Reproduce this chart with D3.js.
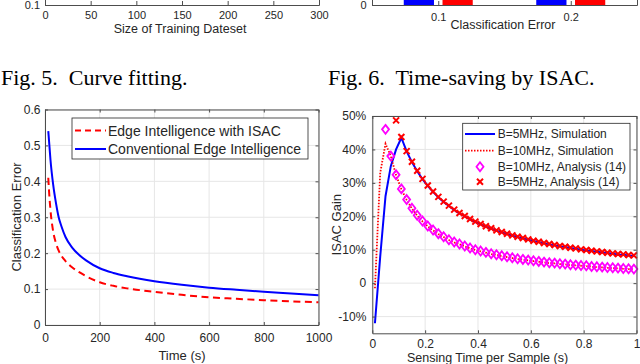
<!DOCTYPE html>
<html>
<head>
<meta charset="utf-8">
<script src="https://cdn.jsdelivr.net/npm/d3@7"></script>
<style>
  body { margin: 0; background: #fff; }
  svg { display: block; }
  text { font-family: "Liberation Sans", Arial, sans-serif; fill: #262626; }
  .cap { font-family: "Liberation Serif", "Times New Roman", serif; font-size: 22px; fill: #000; white-space: pre; }
</style>
</head>
<body>
<div id="wrapper"></div>
<script>
// top strip: bottoms of the two figures above (cropped by the page)
const sizeTicks = [0, 50, 100, 150, 200, 250, 300];
const fitTicks = [0.1];
const errBins = [0.1, 0.2];
const binBlue = [34, 27];   // these run off the top of the crop
const binRed = [30, 31];
const binTicks = [0];

// classification error vs time
const timeSec = [12, 15, 20, 30, 40, 50, 60, 75, 100, 125, 150, 200, 250, 300, 400, 500, 600, 700, 800, 900, 1000];
const errIsac = [0.41, 0.37, 0.32, 0.26, 0.228, 0.207, 0.193, 0.178, 0.16, 0.147, 0.136, 0.119, 0.109, 0.102, 0.0925, 0.084, 0.077, 0.073, 0.069, 0.066, 0.063];
const errConv = [0.54, 0.51, 0.46, 0.39, 0.34, 0.30, 0.275, 0.245, 0.215, 0.195, 0.18, 0.158, 0.145, 0.136, 0.122, 0.112, 0.104, 0.098, 0.0925, 0.088, 0.083];
const timeTicks = [0, 200, 400, 600, 800, 1000];
const errTicks = [0, 0.1, 0.2, 0.3, 0.4, 0.5, 0.6];

// ISAC gain (%) vs sensing time per sample
const senseT = [0.01, 0.03, 0.05, 0.07, 0.09, 0.11, 0.13, 0.15, 0.17, 0.19,
  0.21, 0.23, 0.25, 0.27, 0.29, 0.31, 0.33, 0.35, 0.37, 0.39,
  0.41, 0.43, 0.45, 0.47, 0.49, 0.51, 0.53, 0.55, 0.57, 0.59,
  0.61, 0.63, 0.65, 0.67, 0.69, 0.71, 0.73, 0.75, 0.77, 0.79,
  0.81, 0.83, 0.85, 0.87, 0.89, 0.91, 0.93, 0.95, 0.97, 0.99];
const gainSim5 = [-12, 8, 26, 35, 40, 43.5, 39.4, 36.2, 33.5, 31.1,
  29.1, 27.3, 25.7, 24.3, 23.1, 21.9, 20.9, 20.0, 19.1, 18.3,
  17.6, 16.9, 16.3, 15.7, 15.2, 14.7, 14.2, 13.8, 13.4, 13.0,
  12.6, 12.3, 11.9, 11.6, 11.3, 11.0, 10.8, 10.5, 10.3, 10.0,
  9.8, 9.6, 9.4, 9.2, 9.0, 8.8, 8.6, 8.5, 8.3, 8.2];
const gainSim10 = [-1.5, 33, 41.7, 38.0, 32.3, 28.1, 24.9, 22.3, 20.2, 18.5,
  17.0, 15.8, 14.7, 13.8, 12.9, 12.2, 11.6, 11.0, 10.4, 9.9,
  9.5, 9.1, 8.7, 8.4, 8.1, 7.8, 7.5, 7.2, 7.0, 6.8,
  6.6, 6.4, 6.2, 6.0, 5.9, 5.7, 5.6, 5.4, 5.3, 5.2,
  5.1, 4.9, 4.8, 4.7, 4.6, 4.5, 4.4, 4.3, 4.2, 4.1];
const gainAna10 = [null, null, 46.0, 38.0, 32.4, 28.2, 25.0, 22.4, 20.3, 18.6,
  17.1, 15.9, 14.8, 13.9, 13.0, 12.3, 11.7, 11.1, 10.5, 10.0,
  9.6, 9.2, 8.8, 8.5, 8.2, 7.9, 7.6, 7.3, 7.1, 6.9,
  6.7, 6.5, 6.3, 6.1, 6.0, 5.8, 5.7, 5.5, 5.4, 5.3,
  5.2, 5.0, 4.9, 4.8, 4.7, 4.6, 4.5, 4.4, 4.3, 4.2];
const gainAna5 = [null, null, null, null, 48.7, 43.7, 39.5, 36.3, 33.6, 31.2,
  29.2, 27.4, 25.8, 24.4, 23.2, 22.0, 21.0, 20.1, 19.2, 18.4,
  17.7, 17.0, 16.4, 15.8, 15.3, 14.8, 14.3, 13.9, 13.5, 13.1,
  12.7, 12.4, 12.0, 11.7, 11.4, 11.1, 10.9, 10.6, 10.4, 10.1,
  9.9, 9.7, 9.5, 9.3, 9.1, 8.9, 8.7, 8.6, 8.4, 8.3];
const senseTicks = [0, 0.2, 0.4, 0.6, 0.8, 1];
const gainTicks = [-10, 0, 10, 20, 30, 40, 50];

const axisCol = "#4d4d4d";
const gridCol = "#e6e6e6";

const svg = d3.select("#wrapper").append("svg").attr("width", 640).attr("height", 364);

function drawGrid(g, x, y, xt, yt) {
  const [x0, x1] = x.range(), [y0, y1] = y.range();
  g.append("g").selectAll("line").data(xt).join("line")
    .attr("x1", d => x(d)).attr("x2", d => x(d)).attr("y1", y0).attr("y2", y1)
    .attr("stroke", gridCol);
  g.append("g").selectAll("line").data(yt).join("line")
    .attr("x1", x0).attr("x2", x1).attr("y1", d => y(d)).attr("y2", d => y(d))
    .attr("stroke", gridCol);
}

function drawAxes(g, x, y, o) {
  const [x0, x1] = x.range(), [y0, y1] = y.range();
  const none = () => "";
  const parts = [
    g.append("g").attr("transform", `translate(0,${y0})`)
      .call(d3.axisBottom(x).tickValues(o.xt).tickFormat(o.fx).tickSizeInner(-o.tick).tickSizeOuter(0).tickPadding(o.padX)),
    g.append("g").attr("transform", `translate(${x0},0)`)
      .call(d3.axisLeft(y).tickValues(o.yt).tickFormat(o.fy).tickSizeInner(-o.tick).tickSizeOuter(0).tickPadding(o.padY)),
    g.append("g").attr("transform", `translate(0,${y1})`)
      .call(d3.axisTop(x).tickValues(o.xt).tickFormat(none).tickSizeInner(-o.tick).tickSizeOuter(0)),
    g.append("g").attr("transform", `translate(${x1},0)`)
      .call(d3.axisRight(y).tickValues(o.yt).tickFormat(none).tickSizeInner(-o.tick).tickSizeOuter(0))
  ];
  parts.forEach(p => p.attr("color", axisCol).attr("font-family", null).attr("font-size", o.fs));
}

// ---------- top-left remnant ----------
const xSize = d3.scaleLinear().domain([0, 300]).range([45, 319]);
const yFit = d3.scaleLinear().domain([0.1, 0.6]).range([5, -270]);
drawAxes(svg.append("g"), xSize, yFit, {xt: sizeTicks, yt: fitTicks, fx: d => d, fy: d => d, tick: 4, padX: 6.5, padY: 5, fs: 11});
svg.append("text").attr("x", 180).attr("y", 33).attr("text-anchor", "middle").attr("font-size", 12.5)
  .text("Size of Training Dateset");

// ---------- top-right remnant ----------
const xBin = d3.scaleLinear().domain([0.05, 0.25]).range([372, 637]);
const yBin = d3.scaleLinear().domain([0, 40]).range([5, -250]);
const inner = d3.scaleBand().domain(["blue", "red"]).range([-34.5, 34.5]).paddingInner(0.22);
const binRows = errBins.flatMap((b, i) => [
  {b, k: "blue", v: binBlue[i]},
  {b, k: "red", v: binRed[i]}
]);
svg.append("g").selectAll("rect").data(binRows).join("rect")
  .attr("x", d => xBin(d.b) + inner(d.k))
  .attr("width", inner.bandwidth())
  .attr("y", d => yBin(d.v))
  .attr("height", d => yBin(0) - yBin(d.v))
  .attr("fill", d => d.k === "blue" ? "#0000ff" : "#ff0000");
drawAxes(svg.append("g"), xBin, yBin, {xt: errBins, yt: binTicks, fx: d => d, fy: d => d, tick: 4, padX: 8, padY: 5.5, fs: 11});
svg.append("text").attr("x", 503).attr("y", 29).attr("text-anchor", "middle").attr("font-size", 12.5)
  .text("Classification Error");

// ---------- captions ----------
svg.append("text").attr("class", "cap").attr("x", 1).attr("y", 85).text("Fig. 5.  Curve fitting.");
svg.append("text").attr("class", "cap").attr("x", 328).attr("y", 85).text("Fig. 6.  Time-saving by ISAC.");

// ---------- left: classification error vs time ----------
const xT = d3.scaleLinear().domain([0, 1000]).range([45, 318.5]);
const yE = d3.scaleLinear().domain([0, 0.6]).range([325, 109.5]);
const gL = svg.append("g");
drawGrid(gL, xT, yE, timeTicks, errTicks);

const lineL = d3.line().x(d => xT(d.t)).y(d => yE(d.v)).curve(d3.curveMonotoneX);
gL.append("path").datum(timeSec.map((t, i) => ({t, v: errIsac[i]})))
  .attr("d", lineL).attr("fill", "none").attr("stroke", "#ff0000").attr("stroke-width", 2)
  .attr("stroke-dasharray", "7,4.5");
gL.append("path").datum(timeSec.map((t, i) => ({t, v: errConv[i]})))
  .attr("d", lineL).attr("fill", "none").attr("stroke", "#0000ff").attr("stroke-width", 2);

drawAxes(gL, xT, yE, {xt: timeTicks, yt: errTicks, fx: d => d, fy: d => d, tick: 3, padX: 8, padY: 4.5, fs: 12});
gL.append("text").attr("x", 182).attr("y", 360).attr("text-anchor", "middle").attr("font-size", 13).text("Time (s)");
gL.append("text").attr("transform", "translate(20.5,217) rotate(-90)").attr("text-anchor", "middle")
  .attr("font-size", 13).text("Classification Error");

const legL = gL.append("g");
legL.append("rect").attr("x", 72).attr("y", 118).attr("width", 236).attr("height", 41)
  .attr("fill", "#fff").attr("stroke", "#262626").attr("stroke-width", 0.8);
const legLItems = [
  {name: "Edge Intelligence with ISAC", col: "#ff0000", dash: "6,4", y: 130.5},
  {name: "Conventional Edge Intelligence", col: "#0000ff", dash: null, y: 149}
];
legLItems.forEach(it => {
  legL.append("line").attr("x1", 75).attr("x2", 106).attr("y1", it.y).attr("y2", it.y)
    .attr("stroke", it.col).attr("stroke-width", 2).attr("stroke-dasharray", it.dash);
  legL.append("text").attr("x", 108).attr("y", it.y).attr("dy", "0.36em").attr("font-size", 14).text(it.name);
});

// ---------- right: ISAC gain vs sensing time ----------
const xS = d3.scaleLinear().domain([0, 1]).range([372.3, 636.5]);
const yG = d3.scaleLinear().domain([-15, 50]).range([333.3, 116]);
const gR = svg.append("g");
drawGrid(gR, xS, yG, senseTicks, gainTicks);

const lineR = d3.line().defined(d => d.v != null).x(d => xS(d.t)).y(d => yG(d.v));
const rows = arr => senseT.map((t, i) => ({t, v: arr[i]}));

gR.append("path").datum(rows(gainSim5)).attr("d", lineR)
  .attr("fill", "none").attr("stroke", "#0000ff").attr("stroke-width", 2);
gR.append("path").datum(rows(gainSim10)).attr("d", lineR)
  .attr("fill", "none").attr("stroke", "#ff0000").attr("stroke-width", 1.8).attr("stroke-dasharray", "1.5,1.5");

const diamond = "M0,-4.5L3.5,0L0,4.5L-3.5,0Z";
const cross = "M-3,-3L3,3M-3,3L3,-3";
gR.append("g").selectAll("path").data(rows(gainAna10).filter(d => d.v != null)).join("path")
  .attr("transform", d => `translate(${xS(d.t)},${yG(d.v)})`)
  .attr("d", diamond).attr("fill", "none").attr("stroke", "#ff00ff").attr("stroke-width", 1.8);
gR.append("g").selectAll("path").data(rows(gainAna5).filter(d => d.v != null)).join("path")
  .attr("transform", d => `translate(${xS(d.t)},${yG(d.v)})`)
  .attr("d", cross).attr("fill", "none").attr("stroke", "#ff0000").attr("stroke-width", 2);

drawAxes(gR, xS, yG, {xt: senseTicks, yt: gainTicks, fx: d => d,
  fy: d => d === 0 ? "0" : d + "%", tick: 3, padX: 6.5, padY: 6, fs: 12});
gR.append("text").attr("x", 487.5).attr("y", 361.5).attr("text-anchor", "middle").attr("font-size", 12.5)
  .text("Sensing Time per Sample (s)");
gR.append("text").attr("transform", "translate(341,224.7) rotate(-90)").attr("text-anchor", "middle")
  .attr("font-size", 13).text("ISAC Gain");

const legR = gR.append("g");
legR.append("rect").attr("x", 462.7).attr("y", 123.3).attr("width", 167.3).attr("height", 66.7)
  .attr("fill", "#fff").attr("stroke", "#262626").attr("stroke-width", 0.8);
const legRItems = [
  {name: "B=5MHz, Simulation", kind: "solid", y: 134},
  {name: "B=10MHz, Simulation", kind: "dot", y: 150.7},
  {name: "B=10MHz, Analysis (14)", kind: "diamond", y: 166.7},
  {name: "B=5MHz, Analysis (14)", kind: "cross", y: 181.7}
];
legRItems.forEach(it => {
  if (it.kind === "solid") {
    legR.append("line").attr("x1", 465).attr("x2", 495).attr("y1", it.y).attr("y2", it.y)
      .attr("stroke", "#0000ff").attr("stroke-width", 2);
  } else if (it.kind === "dot") {
    legR.append("line").attr("x1", 465).attr("x2", 495).attr("y1", it.y).attr("y2", it.y)
      .attr("stroke", "#ff0000").attr("stroke-width", 1.8).attr("stroke-dasharray", "1.5,1.5");
  } else {
    legR.append("path").attr("transform", `translate(480,${it.y})`)
      .attr("d", it.kind === "diamond" ? diamond : cross).attr("fill", "none")
      .attr("stroke", it.kind === "diamond" ? "#ff00ff" : "#ff0000")
      .attr("stroke-width", it.kind === "diamond" ? 1.8 : 2);
  }
  legR.append("text").attr("x", 497.7).attr("y", it.y).attr("dy", "0.36em").attr("font-size", 12).text(it.name);
});
</script>
</body>
</html>
